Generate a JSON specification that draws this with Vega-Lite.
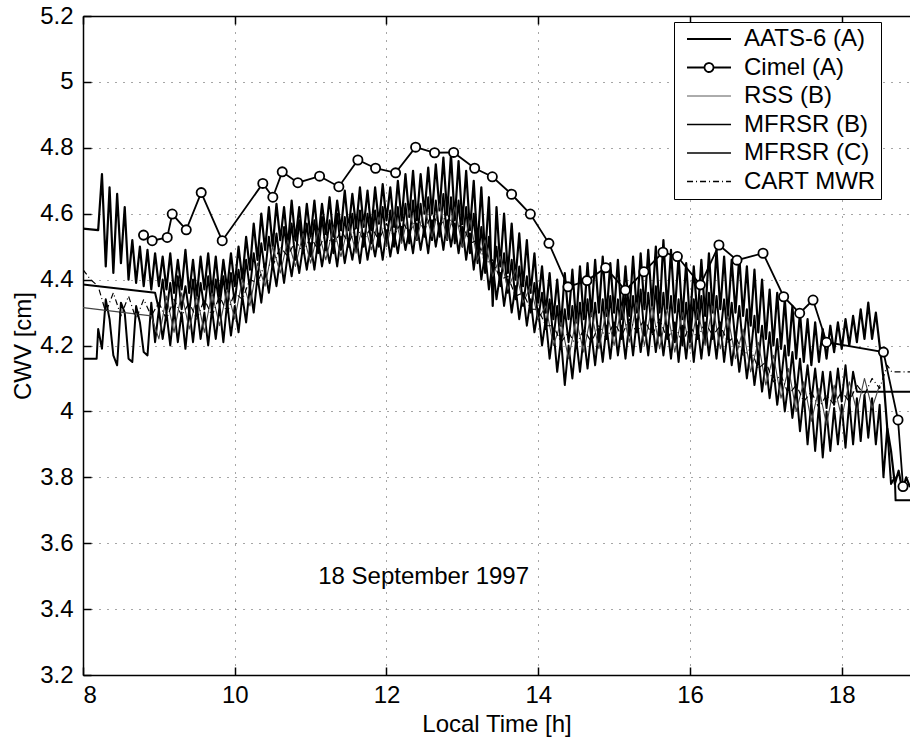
{
"$schema":"https://vega.github.io/schema/vega-lite/v6.json",
"width":827,"height":659,
"autosize":{"type":"none"},
"padding":{"left":83,"top":16,"right":0,"bottom":65},
"config":{
"font":"Liberation Sans",
"view":{"stroke":null},
"axis":{"domainColor":"black","domainWidth":1.5,"tickColor":"black","tickWidth":1.5,"tickSize":-8,"labelFontSize":24,"labelColor":"black","labelFont":"Liberation Sans","titleFont":"Liberation Sans","titleFontSize":24,"titleFontWeight":"normal","titleColor":"black","gridColor":"black","gridDash":[1,7],"gridWidth":1,"gridOpacity":0.7,"labelPadding":18}
},
"datasets":{
"w":[
{"t":8,"a":4.555,"b":4.385,"c":4.16,"r":4.315,"m":4.43},
{"t":8.1,"m":4.40},
{"t":8.18,"c":4.16},
{"t":8.2,"a":4.55,"c":4.25,"m":4.38},
{"t":8.25,"a":4.72,"c":4.19},
{"t":8.3,"a":4.44,"c":4.34,"m":4.30},
{"t":8.35,"a":4.68,"c":4.28},
{"t":8.4,"a":4.42,"c":4.17,"m":4.36},
{"t":8.45,"a":4.66,"c":4.14},
{"t":8.5,"a":4.45,"c":4.33,"m":4.29},
{"t":8.55,"a":4.62,"c":4.30},
{"t":8.6,"a":4.40,"c":4.16,"m":4.35},
{"t":8.65,"a":4.52,"c":4.15},
{"t":8.7,"a":4.39,"c":4.32,"m":4.28},
{"t":8.75,"a":4.50,"c":4.27},
{"t":8.8,"a":4.38,"c":4.18,"m":4.34},
{"t":8.85,"a":4.49,"c":4.17},
{"t":8.9,"a":4.37,"c":4.33,"r":4.29,"m":4.29},
{"t":8.95,"a":4.48,"b":4.36,"c":4.21},
{"t":9.0,"a":4.38,"b":4.31,"c":4.31,"r":4.22,"m":4.33},
{"t":9.05,"a":4.47,"b":4.40,"c":4.22},
{"t":9.1,"a":4.37,"b":4.30,"c":4.30,"r":4.35,"m":4.28},
{"t":9.15,"a":4.48,"b":4.39,"c":4.20},
{"t":9.2,"a":4.36,"b":4.29,"c":4.31,"r":4.24,"m":4.34},
{"t":9.25,"a":4.46,"b":4.41,"c":4.21},
{"t":9.3,"a":4.37,"b":4.31,"c":4.30,"r":4.36,"m":4.29},
{"t":9.35,"a":4.49,"b":4.38,"c":4.19},
{"t":9.4,"a":4.36,"b":4.30,"c":4.31,"r":4.25,"m":4.33},
{"t":9.45,"a":4.46,"b":4.40,"c":4.21},
{"t":9.5,"a":4.35,"b":4.29,"c":4.32,"r":4.35,"m":4.28},
{"t":9.55,"a":4.47,"b":4.39,"c":4.22},
{"t":9.6,"a":4.37,"b":4.31,"c":4.30,"r":4.24,"m":4.34},
{"t":9.65,"a":4.48,"b":4.41,"c":4.20},
{"t":9.7,"a":4.36,"b":4.30,"c":4.31,"r":4.36,"m":4.29},
{"t":9.75,"a":4.47,"b":4.40,"c":4.22},
{"t":9.8,"a":4.35,"b":4.32,"c":4.32,"r":4.26,"m":4.35},
{"t":9.85,"a":4.46,"b":4.41,"c":4.21},
{"t":9.9,"a":4.37,"b":4.31,"c":4.33,"r":4.37,"m":4.30},
{"t":9.95,"a":4.48,"b":4.42,"c":4.23},
{"t":10.0,"a":4.38,"b":4.33,"c":4.32,"r":4.28,"m":4.36},
{"t":10.05,"a":4.50,"b":4.43,"c":4.24},
{"t":10.1,"a":4.40,"b":4.35,"c":4.35,"r":4.40,"m":4.34},
{"t":10.15,"a":4.53,"b":4.46,"c":4.27},
{"t":10.2,"a":4.43,"b":4.37,"c":4.38,"r":4.32,"m":4.40},
{"t":10.25,"a":4.57,"b":4.48,"c":4.30},
{"t":10.3,"a":4.46,"b":4.40,"c":4.41,"r":4.45,"m":4.39},
{"t":10.35,"a":4.60,"b":4.51,"c":4.33},
{"t":10.4,"a":4.49,"b":4.42,"c":4.43,"r":4.38,"m":4.45},
{"t":10.45,"a":4.62,"b":4.53,"c":4.36},
{"t":10.5,"a":4.50,"b":4.44,"c":4.45,"r":4.50,"m":4.44},
{"t":10.55,"a":4.63,"b":4.54,"c":4.38},
{"t":10.6,"a":4.52,"b":4.45,"c":4.47,"r":4.42,"m":4.50},
{"t":10.65,"a":4.62,"b":4.56,"c":4.39},
{"t":10.7,"a":4.50,"b":4.47,"c":4.48,"r":4.52,"m":4.47},
{"t":10.75,"a":4.64,"b":4.57,"c":4.41},
{"t":10.8,"a":4.52,"b":4.46,"c":4.49,"r":4.44,"m":4.52},
{"t":10.85,"a":4.62,"b":4.58,"c":4.42},
{"t":10.9,"a":4.51,"b":4.48,"c":4.50,"r":4.54,"m":4.48},
{"t":10.95,"a":4.63,"b":4.57,"c":4.43},
{"t":11.0,"a":4.53,"b":4.47,"c":4.51,"r":4.45,"m":4.53},
{"t":11.05,"a":4.64,"b":4.58,"c":4.43},
{"t":11.1,"a":4.52,"b":4.48,"c":4.52,"r":4.55,"m":4.49},
{"t":11.15,"a":4.63,"b":4.59,"c":4.44},
{"t":11.2,"a":4.54,"b":4.49,"c":4.51,"r":4.46,"m":4.54},
{"t":11.25,"a":4.65,"b":4.58,"c":4.45},
{"t":11.3,"a":4.53,"b":4.48,"c":4.52,"r":4.56,"m":4.50},
{"t":11.35,"a":4.64,"b":4.60,"c":4.44},
{"t":11.4,"a":4.55,"b":4.49,"c":4.53,"r":4.47,"m":4.55},
{"t":11.45,"a":4.67,"b":4.59,"c":4.45},
{"t":11.5,"a":4.55,"b":4.50,"c":4.52,"r":4.57,"m":4.51},
{"t":11.55,"a":4.66,"b":4.60,"c":4.46},
{"t":11.6,"a":4.56,"b":4.49,"c":4.53,"r":4.48,"m":4.56},
{"t":11.65,"a":4.68,"b":4.61,"c":4.45},
{"t":11.7,"a":4.56,"b":4.50,"c":4.54,"r":4.58,"m":4.52},
{"t":11.75,"a":4.67,"b":4.60,"c":4.46},
{"t":11.8,"a":4.55,"b":4.51,"c":4.53,"r":4.49,"m":4.56},
{"t":11.85,"a":4.68,"b":4.61,"c":4.47},
{"t":11.9,"a":4.57,"b":4.50,"c":4.54,"r":4.59,"m":4.52},
{"t":11.95,"a":4.69,"b":4.62,"c":4.46},
{"t":12.0,"a":4.58,"b":4.51,"c":4.55,"r":4.50,"m":4.57},
{"t":12.05,"a":4.68,"b":4.61,"c":4.47},
{"t":12.1,"a":4.56,"b":4.50,"c":4.54,"r":4.60,"m":4.53},
{"t":12.15,"a":4.70,"b":4.62,"c":4.48},
{"t":12.2,"a":4.58,"b":4.52,"c":4.56,"r":4.51,"m":4.58},
{"t":12.25,"a":4.72,"b":4.63,"c":4.49},
{"t":12.3,"a":4.59,"b":4.51,"c":4.55,"r":4.61,"m":4.54},
{"t":12.35,"a":4.73,"b":4.64,"c":4.48},
{"t":12.4,"a":4.58,"b":4.52,"c":4.57,"r":4.52,"m":4.59},
{"t":12.45,"a":4.72,"b":4.63,"c":4.49},
{"t":12.5,"a":4.60,"b":4.53,"c":4.56,"r":4.62,"m":4.55},
{"t":12.55,"a":4.74,"b":4.65,"c":4.48},
{"t":12.6,"a":4.60,"b":4.52,"c":4.58,"r":4.53,"m":4.60},
{"t":12.65,"a":4.75,"b":4.64,"c":4.50},
{"t":12.7,"a":4.61,"b":4.53,"c":4.57,"r":4.63,"m":4.56},
{"t":12.75,"a":4.77,"b":4.66,"c":4.49},
{"t":12.8,"a":4.60,"b":4.52,"c":4.58,"r":4.52,"m":4.60},
{"t":12.85,"a":4.78,"b":4.65,"c":4.50},
{"t":12.9,"a":4.58,"b":4.51,"c":4.57,"r":4.62,"m":4.55},
{"t":12.95,"a":4.76,"b":4.64,"c":4.48},
{"t":13.0,"a":4.57,"b":4.50,"c":4.56,"r":4.50,"m":4.57},
{"t":13.05,"a":4.73,"b":4.62,"c":4.46},
{"t":13.1,"a":4.55,"b":4.48,"c":4.54,"r":4.58,"m":4.51},
{"t":13.15,"a":4.70,"b":4.60,"c":4.43},
{"t":13.2,"a":4.50,"b":4.45,"c":4.52,"r":4.46,"m":4.52},
{"t":13.25,"a":4.68,"b":4.56,"c":4.40},
{"t":13.3,"a":4.47,"b":4.42,"c":4.48,"r":4.52,"m":4.45},
{"t":13.35,"a":4.65,"b":4.53,"c":4.37},
{"t":13.4,"a":4.32,"b":4.40,"c":4.45,"r":4.41,"m":4.46},
{"t":13.45,"a":4.62,"b":4.50,"c":4.34},
{"t":13.5,"a":4.44,"b":4.38,"c":4.42,"r":4.47,"m":4.40},
{"t":13.55,"a":4.60,"b":4.48,"c":4.32},
{"t":13.6,"a":4.42,"b":4.36,"c":4.40,"r":4.37,"m":4.41},
{"t":13.65,"a":4.57,"b":4.46,"c":4.30},
{"t":13.7,"a":4.40,"b":4.34,"c":4.38,"r":4.43,"m":4.35},
{"t":13.75,"a":4.54,"b":4.44,"c":4.28},
{"t":13.8,"a":4.38,"b":4.32,"c":4.36,"r":4.33,"m":4.36},
{"t":13.85,"a":4.52,"b":4.41,"c":4.26},
{"t":13.9,"a":4.36,"b":4.30,"c":4.34,"r":4.38,"m":4.31},
{"t":13.95,"a":4.48,"b":4.39,"c":4.24},
{"t":14.0,"a":4.33,"b":4.28,"c":4.31,"r":4.28,"m":4.31},
{"t":14.05,"a":4.44,"b":4.36,"c":4.20},
{"t":14.1,"a":4.30,"b":4.25,"c":4.28,"r":4.32,"m":4.26},
{"t":14.15,"a":4.42,"b":4.34,"c":4.16},
{"t":14.2,"a":4.28,"b":4.22,"c":4.25,"r":4.20,"m":4.26},
{"t":14.25,"a":4.40,"b":4.32,"c":4.12},
{"t":14.3,"a":4.26,"b":4.20,"c":4.22,"r":4.27,"m":4.21},
{"t":14.35,"a":4.42,"b":4.31,"c":4.08},
{"t":14.4,"a":4.28,"b":4.21,"c":4.20,"r":4.16,"m":4.24},
{"t":14.45,"a":4.43,"b":4.32,"c":4.10},
{"t":14.5,"a":4.27,"b":4.20,"c":4.22,"r":4.28,"m":4.20},
{"t":14.55,"a":4.44,"b":4.33,"c":4.12},
{"t":14.6,"a":4.28,"b":4.21,"c":4.23,"r":4.18,"m":4.25},
{"t":14.65,"a":4.45,"b":4.34,"c":4.13},
{"t":14.7,"a":4.29,"b":4.22,"c":4.24,"r":4.30,"m":4.21},
{"t":14.75,"a":4.46,"b":4.33,"c":4.14},
{"t":14.8,"a":4.30,"b":4.21,"c":4.25,"r":4.19,"m":4.26},
{"t":14.85,"a":4.47,"b":4.34,"c":4.15},
{"t":14.9,"a":4.29,"b":4.22,"c":4.26,"r":4.31,"m":4.22},
{"t":14.95,"a":4.45,"b":4.35,"c":4.16},
{"t":15.0,"a":4.30,"b":4.23,"c":4.27,"r":4.20,"m":4.27},
{"t":15.05,"a":4.46,"b":4.34,"c":4.17},
{"t":15.1,"a":4.28,"b":4.22,"c":4.26,"r":4.32,"m":4.23},
{"t":15.15,"a":4.44,"b":4.36,"c":4.16},
{"t":15.2,"a":4.29,"b":4.23,"c":4.27,"r":4.21,"m":4.28},
{"t":15.25,"a":4.47,"b":4.35,"c":4.17},
{"t":15.3,"a":4.30,"b":4.24,"c":4.28,"r":4.33,"m":4.24},
{"t":15.35,"a":4.48,"b":4.37,"c":4.18},
{"t":15.4,"a":4.31,"b":4.23,"c":4.27,"r":4.20,"m":4.28},
{"t":15.45,"a":4.49,"b":4.36,"c":4.17},
{"t":15.5,"a":4.32,"b":4.24,"c":4.28,"r":4.32,"m":4.23},
{"t":15.55,"a":4.50,"b":4.38,"c":4.18},
{"t":15.6,"a":4.30,"b":4.23,"c":4.27,"r":4.19,"m":4.28},
{"t":15.65,"a":4.52,"b":4.36,"c":4.17},
{"t":15.7,"a":4.31,"b":4.22,"c":4.26,"r":4.31,"m":4.22},
{"t":15.75,"a":4.49,"b":4.35,"c":4.16},
{"t":15.8,"a":4.30,"b":4.21,"c":4.27,"r":4.18,"m":4.26},
{"t":15.85,"a":4.47,"b":4.34,"c":4.15},
{"t":15.9,"a":4.28,"b":4.20,"c":4.26,"r":4.30,"m":4.21},
{"t":15.95,"a":4.45,"b":4.33,"c":4.16},
{"t":16.0,"a":4.27,"b":4.21,"c":4.27,"r":4.19,"m":4.26},
{"t":16.05,"a":4.44,"b":4.34,"c":4.15},
{"t":16.1,"a":4.28,"b":4.22,"c":4.26,"r":4.31,"m":4.22},
{"t":16.15,"a":4.46,"b":4.35,"c":4.16},
{"t":16.2,"a":4.29,"b":4.21,"c":4.27,"r":4.20,"m":4.27},
{"t":16.25,"a":4.48,"b":4.36,"c":4.17},
{"t":16.3,"a":4.30,"b":4.22,"c":4.26,"r":4.32,"m":4.23},
{"t":16.35,"a":4.49,"b":4.35,"c":4.16},
{"t":16.4,"a":4.31,"b":4.23,"c":4.27,"r":4.19,"m":4.26},
{"t":16.45,"a":4.47,"b":4.34,"c":4.15},
{"t":16.5,"a":4.29,"b":4.22,"c":4.25,"r":4.29,"m":4.21},
{"t":16.55,"a":4.46,"b":4.33,"c":4.14},
{"t":16.6,"a":4.30,"b":4.21,"c":4.23,"r":4.16,"m":4.23},
{"t":16.65,"a":4.47,"b":4.32,"c":4.12},
{"t":16.7,"a":4.29,"b":4.19,"c":4.21,"r":4.25,"m":4.17},
{"t":16.75,"a":4.44,"b":4.31,"c":4.10},
{"t":16.8,"a":4.26,"b":4.17,"c":4.19,"r":4.12,"m":4.19},
{"t":16.85,"a":4.43,"b":4.29,"c":4.08},
{"t":16.9,"a":4.24,"b":4.15,"c":4.17,"r":4.21,"m":4.13},
{"t":16.95,"a":4.40,"b":4.26,"c":4.06},
{"t":17.0,"a":4.22,"b":4.13,"c":4.15,"r":4.08,"m":4.15},
{"t":17.05,"a":4.37,"b":4.24,"c":4.04},
{"t":17.1,"a":4.20,"b":4.11,"c":4.13,"r":4.17,"m":4.09},
{"t":17.15,"a":4.36,"b":4.22,"c":4.02},
{"t":17.2,"a":4.19,"b":4.09,"c":4.11,"r":4.04,"m":4.11},
{"t":17.25,"a":4.34,"b":4.20,"c":4.00},
{"t":17.3,"a":4.17,"b":4.07,"c":4.09,"r":4.13,"m":4.05},
{"t":17.35,"a":4.32,"b":4.18,"c":3.98},
{"t":17.4,"a":4.16,"b":4.05,"c":4.07,"r":4.00,"m":4.08},
{"t":17.45,"a":4.30,"b":4.16,"c":3.94},
{"t":17.5,"a":4.15,"b":4.04,"c":4.05,"r":4.09,"m":4.03},
{"t":17.55,"a":4.28,"b":4.14,"c":3.90},
{"t":17.6,"a":4.14,"b":4.03,"c":4.03,"r":3.97,"m":4.06},
{"t":17.65,"a":4.27,"b":4.13,"c":3.88},
{"t":17.7,"a":4.15,"b":4.02,"c":4.02,"r":4.07,"m":4.01},
{"t":17.75,"a":4.25,"b":4.12,"c":3.86},
{"t":17.8,"a":4.16,"b":4.01,"c":4.00,"r":3.96,"m":4.05},
{"t":17.85,"a":4.26,"b":4.12,"c":3.88},
{"t":17.9,"a":4.18,"b":4.02,"c":4.01,"r":4.08,"m":4.02},
{"t":17.95,"a":4.27,"b":4.13,"c":3.90},
{"t":18.0,"a":4.19,"b":4.03,"c":4.02,"r":3.98,"m":4.06},
{"t":18.05,"a":4.28,"b":4.14,"c":3.89},
{"t":18.1,"a":4.20,"b":4.02,"c":4.03,"r":4.09,"m":4.03},
{"t":18.15,"a":4.29,"b":4.12,"c":3.90},
{"t":18.2,"a":4.21,"b":4.06,"c":4.04,"r":4.00,"m":4.08},
{"t":18.25,"a":4.31,"c":3.91},
{"t":18.3,"a":4.22,"c":4.05,"r":4.10,"m":4.05},
{"t":18.35,"a":4.33,"c":3.92},
{"t":18.4,"a":4.22,"c":4.04,"r":4.01,"m":4.10},
{"t":18.45,"a":4.30,"c":3.90},
{"t":18.5,"a":4.20,"c":4.02,"r":4.08,"m":4.07},
{"t":18.55,"a":4.10,"c":3.80},
{"t":18.6,"a":3.95,"c":3.95,"m":4.14},
{"t":18.65,"a":3.88,"c":3.78},
{"t":18.66,"m":4.12},
{"t":18.7,"a":3.78,"c":3.80},
{"t":18.71,"c":3.73},
{"t":18.75,"a":3.82},
{"t":18.8,"a":3.76},
{"t":18.85,"a":3.80},
{"t":18.9,"a":3.77,"b":4.06,"c":3.73,"m":4.12}
],
"cimel":[
{"t":8.798,"v":4.535},{"t":8.912,"v":4.518},{"t":9.11,"v":4.528},{"t":9.176,"v":4.599},{"t":9.361,"v":4.551},{"t":9.558,"v":4.664},{"t":9.835,"v":4.518},{"t":10.37,"v":4.692},{"t":10.502,"v":4.65},{"t":10.626,"v":4.727},{"t":10.832,"v":4.694},{"t":11.118,"v":4.714},{"t":11.372,"v":4.682},{"t":11.623,"v":4.763},{"t":11.856,"v":4.738},{"t":12.12,"v":4.724},{"t":12.384,"v":4.802},{"t":12.634,"v":4.785},{"t":12.885,"v":4.786},{"t":13.162,"v":4.738},{"t":13.395,"v":4.712},{"t":13.649,"v":4.659},{"t":13.896,"v":4.599},{"t":14.141,"v":4.51},{"t":14.392,"v":4.378},{"t":14.642,"v":4.397},{"t":14.889,"v":4.436},{"t":15.148,"v":4.368},{"t":15.393,"v":4.424},{"t":15.644,"v":4.483},{"t":15.834,"v":4.47},{"t":16.137,"v":4.384},{"t":16.382,"v":4.505},{"t":16.62,"v":4.459},{"t":16.963,"v":4.48},{"t":17.235,"v":4.348},{"t":17.446,"v":4.298},{"t":17.622,"v":4.338},{"t":17.8,"v":4.21},{"t":18.55,"v":4.18},{"t":18.742,"v":3.974},{"t":18.808,"v":3.772}
],
"note":[{"t":11.1,"v":3.475,"label":"18 September 1997"}]
},
"layer":[
{"data":{"name":"w"},
"transform":[{"fold":["a","b","c","r","m"],"as":["s","v"]},{"filter":"isValid(datum.v)"},{"filter":{"field":"s","oneOf":["b","c"]}}],
"mark":{"type":"line","strokeWidth":2.0,"strokeJoin":"round","clip":true},
"encoding":{
"x":{"field":"t","type":"quantitative","scale":{"domain":[8,18.9],"nice":false,"zero":false},"axis":{"title":"Local Time [h]","orient":"bottom","values":[8,10,12,14,16,18],"format":"~g","labelPadding":16,"titleBaseline":"alphabetic","titleY":56}},
"y":{"field":"v","type":"quantitative","scale":{"domain":[3.2,5.2],"nice":false,"zero":false},"axis":{"title":"CWV [cm]","values":[3.2,3.4,3.6,3.8,4,4.2,4.4,4.6,4.8,5,5.2],"format":"~g"}},
"color":{"field":"s","type":"nominal","scale":{"domain":["a","i","r","b","c","m"],"range":["black","black","#444444","black","black","black"]},
"legend":{"orient":"none","legendX":591,"legendY":6,"title":null,"direction":"vertical",
"labelExpr":"datum.label==='a'?'AATS-6 (A)':datum.label==='i'?'Cimel (A)':datum.label==='r'?'RSS (B)':datum.label==='b'?'MFRSR (B)':datum.label==='c'?'MFRSR (C)':'CART MWR'",
"labelFont":"Liberation Sans","labelFontSize":24,"labelColor":"black","labelOffset":23,
"symbolSize":784,"symbolOffset":18,"symbolType":"stroke","symbolStrokeWidth":1.5,
"strokeColor":"black","fillColor":"white","padding":5,"rowPadding":4.5,
"encode":{"symbols":{"update":{
"shape":{"signal":"datum.value==='i'?'M-1.57,0H-0.32M0.32,0H1.57M0.32,0A0.32,0.32,0,1,1,-0.32,0A0.32,0.32,0,1,1,0.32,0':'M-1.57,0H1.57'"},
"strokeDash":{"signal":"datum.value==='m'?[6,3,1,3]:[1,0]"},
"strokeWidth":{"signal":"datum.value==='a'?2:datum.value==='r'?0.9:datum.value==='i'?1.8:1.4"},
"fill":{"value":"white"},"stroke":{"value":"black"}}}}}},
"detail":{"field":"s"}}},
{"data":{"name":"w"},
"transform":[{"fold":["a","b","c","r","m"],"as":["s","v"]},{"filter":"isValid(datum.v)"},{"filter":{"field":"s","equal":"a"}}],
"mark":{"type":"line","strokeWidth":2.2,"strokeJoin":"round","clip":true},
"encoding":{
"x":{"field":"t","type":"quantitative","scale":{"domain":[8,18.9],"nice":false,"zero":false},"axis":null},
"y":{"field":"v","type":"quantitative","scale":{"domain":[3.2,5.2],"nice":false,"zero":false}},
"color":{"field":"s","type":"nominal","legend":null}}},
{"data":{"name":"w"},
"transform":[{"fold":["a","b","c","r","m"],"as":["s","v"]},{"filter":"isValid(datum.v)"},{"filter":{"field":"s","equal":"r"}}],
"mark":{"type":"line","strokeWidth":1.1,"strokeJoin":"round","clip":true},
"encoding":{
"x":{"field":"t","type":"quantitative","scale":{"domain":[8,18.9],"nice":false,"zero":false},"axis":null},
"y":{"field":"v","type":"quantitative","scale":{"domain":[3.2,5.2],"nice":false,"zero":false}},
"color":{"field":"s","type":"nominal","legend":null}}},
{"data":{"name":"w"},
"transform":[{"fold":["a","b","c","r","m"],"as":["s","v"]},{"filter":"isValid(datum.v)"},{"filter":{"field":"s","equal":"m"}}],
"mark":{"type":"line","strokeWidth":1.2,"strokeDash":[6,3,1,3],"strokeJoin":"round","clip":true},
"encoding":{
"x":{"field":"t","type":"quantitative","scale":{"domain":[8,18.9],"nice":false,"zero":false},"axis":null},
"y":{"field":"v","type":"quantitative","scale":{"domain":[3.2,5.2],"nice":false,"zero":false}},
"color":{"field":"s","type":"nominal","legend":null}}},
{"data":{"name":"cimel"},
"mark":{"type":"line","strokeWidth":1.8,"clip":true},
"encoding":{
"x":{"field":"t","type":"quantitative","scale":{"domain":[8,18.9],"nice":false,"zero":false},"axis":null},
"y":{"field":"v","type":"quantitative","scale":{"domain":[3.2,5.2],"nice":false,"zero":false}},
"color":{"datum":"i","type":"nominal","legend":null}}},
{"data":{"name":"cimel"},
"mark":{"type":"point","shape":"circle","filled":true,"fill":"white","stroke":"black","strokeWidth":1.8,"size":85,"opacity":1,"clip":true},
"encoding":{
"x":{"field":"t","type":"quantitative","scale":{"domain":[8,18.9],"nice":false,"zero":false},"axis":{"orient":"top","labels":false,"grid":false,"title":null,"values":[8,10,12,14,16,18]}},
"y":{"field":"v","type":"quantitative","scale":{"domain":[3.2,5.2],"nice":false,"zero":false}}}},
{"data":{"name":"note"},
"mark":{"type":"text","align":"left","baseline":"alphabetic","fontSize":24,"font":"Liberation Sans","color":"black"},
"encoding":{
"x":{"field":"t","type":"quantitative","scale":{"domain":[8,18.9],"nice":false,"zero":false},"axis":null},
"y":{"field":"v","type":"quantitative","scale":{"domain":[3.2,5.2],"nice":false,"zero":false}},
"text":{"field":"label"}}}
],
"resolve":{"axis":{"x":"independent"}}
}
